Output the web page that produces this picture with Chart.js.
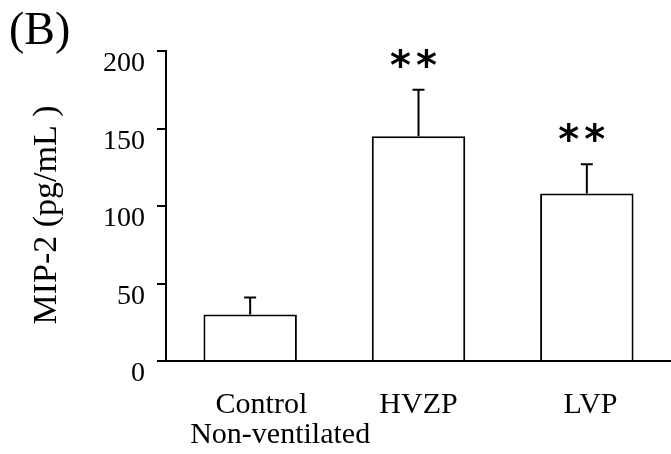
<!DOCTYPE html>
<html>
<head>
<meta charset="utf-8">
<script src="https://cdn.jsdelivr.net/npm/chart.js@4"></script>
<style>
  body { margin: 0; background: #fff; }
  #wrap { width: 671px; height: 454px; }
</style>
</head>
<body>
<div id="wrap"><canvas id="mip2-chart"></canvas></div>
<script>
// data
const groups = [["\u00a0\u00a0\u00a0Control", "\u00a0\u00a0\u00a0\u00a0\u00a0\u00a0\u00a0\u00a0Non-ventilated"], "HVZP", "\u00a0LVP"];
const meanValues = [30, 145, 108];
const errValues = [11, 30, 19];
const sigMarks = ["", "**", "**"];
const yTicks = [0, 50, 100, 150, 200];
const yTitle = "MIP-2 (pg/mL )";

const serif = "'Liberation Serif', 'Times New Roman', serif";

// upper error whiskers + significance stars
const errorBars = {
    id: 'errorBars',
    afterDatasetsDraw(chart) {
        const ctx = chart.ctx;
        const yScale = chart.scales.y;
        const meta = chart.getDatasetMeta(0);
        ctx.save();
        ctx.strokeStyle = '#000';
        ctx.lineWidth = 2;
        meta.data.forEach((bar, i) => {
            const yTop = yScale.getPixelForValue(meanValues[i] + errValues[i]);
            ctx.beginPath();
            ctx.moveTo(bar.x, bar.y);
            ctx.lineTo(bar.x, yTop);
            ctx.moveTo(bar.x - 6, yTop);
            ctx.lineTo(bar.x + 6, yTop);
            ctx.stroke();
            // one glyph per star, spread a bit wider than the font does
            const stars = sigMarks[i].split("");
            ctx.fillStyle = '#000';
            ctx.font = "bold 40px 'DejaVu Sans'";
            ctx.textAlign = 'center';
            ctx.textBaseline = 'alphabetic';
            stars.forEach((s, k) => {
                const dx = (k - (stars.length - 1) / 2) * 26;
                ctx.fillText(s, bar.x - 5 + dx, yTop - 11);
            });
        });
        ctx.restore();
    }
};

// panel letter and rotated y title
const panelText = {
    id: 'panelText',
    afterDraw(chart) {
        const ctx = chart.ctx;
        ctx.save();
        ctx.fillStyle = '#000';
        ctx.font = "46px " + serif;
        ctx.textAlign = 'left';
        ctx.textBaseline = 'alphabetic';
        ctx.fillText("(B)", 9, 44);

        ctx.translate(47, 215);
        ctx.rotate(-Math.PI / 2);
        ctx.font = "34px " + serif;
        ctx.textAlign = 'center';
        ctx.textBaseline = 'middle';
        ctx.fillText(yTitle, 0, 0);
        ctx.restore();
    }
};

const ctx = document.getElementById("mip2-chart").getContext("2d");

const chart = new Chart(ctx, {
    type: 'bar',
    data: {
        labels: groups,
        datasets: [{
            data: meanValues,
            backgroundColor: '#fff',
            borderColor: '#000',
            borderWidth: 2,
            barPercentage: 0.555,
            categoryPercentage: 1
        }]
    },
    options: {
        responsive: true,
        maintainAspectRatio: false,
        animation: false,
        layout: { padding: { top: 51, right: 0, bottom: 0, left: 0 } },
        plugins: {
            legend: { display: false },
            tooltip: { enabled: false }
        },
        scales: {
            x: {
                grid: { display: false, drawTicks: false },
                border: { display: true, color: '#000', width: 2 },
                ticks: {
                    color: '#000',
                    padding: 30,
                    maxRotation: 0,
                    autoSkip: false,
                    font: { family: serif, size: 30, lineHeight: 0.97 }
                },
                afterFit: (scale) => { scale.height = 93; }
            },
            y: {
                min: 0,
                max: 200,
                afterBuildTicks: (scale) => { scale.ticks = yTicks.map(v => ({ value: v })); },
                grid: { drawOnChartArea: false, color: '#000', lineWidth: 2, tickLength: 9 },
                border: { display: true, color: '#000', width: 2 },
                ticks: {
                    color: '#000',
                    padding: 12,
                    labelOffset: 13,
                    font: { family: serif, size: 28 }
                },
                afterFit: (scale) => { scale.width = 166; }
            }
        }
    },
    plugins: [errorBars, panelText]
});
</script>
</body>
</html>
